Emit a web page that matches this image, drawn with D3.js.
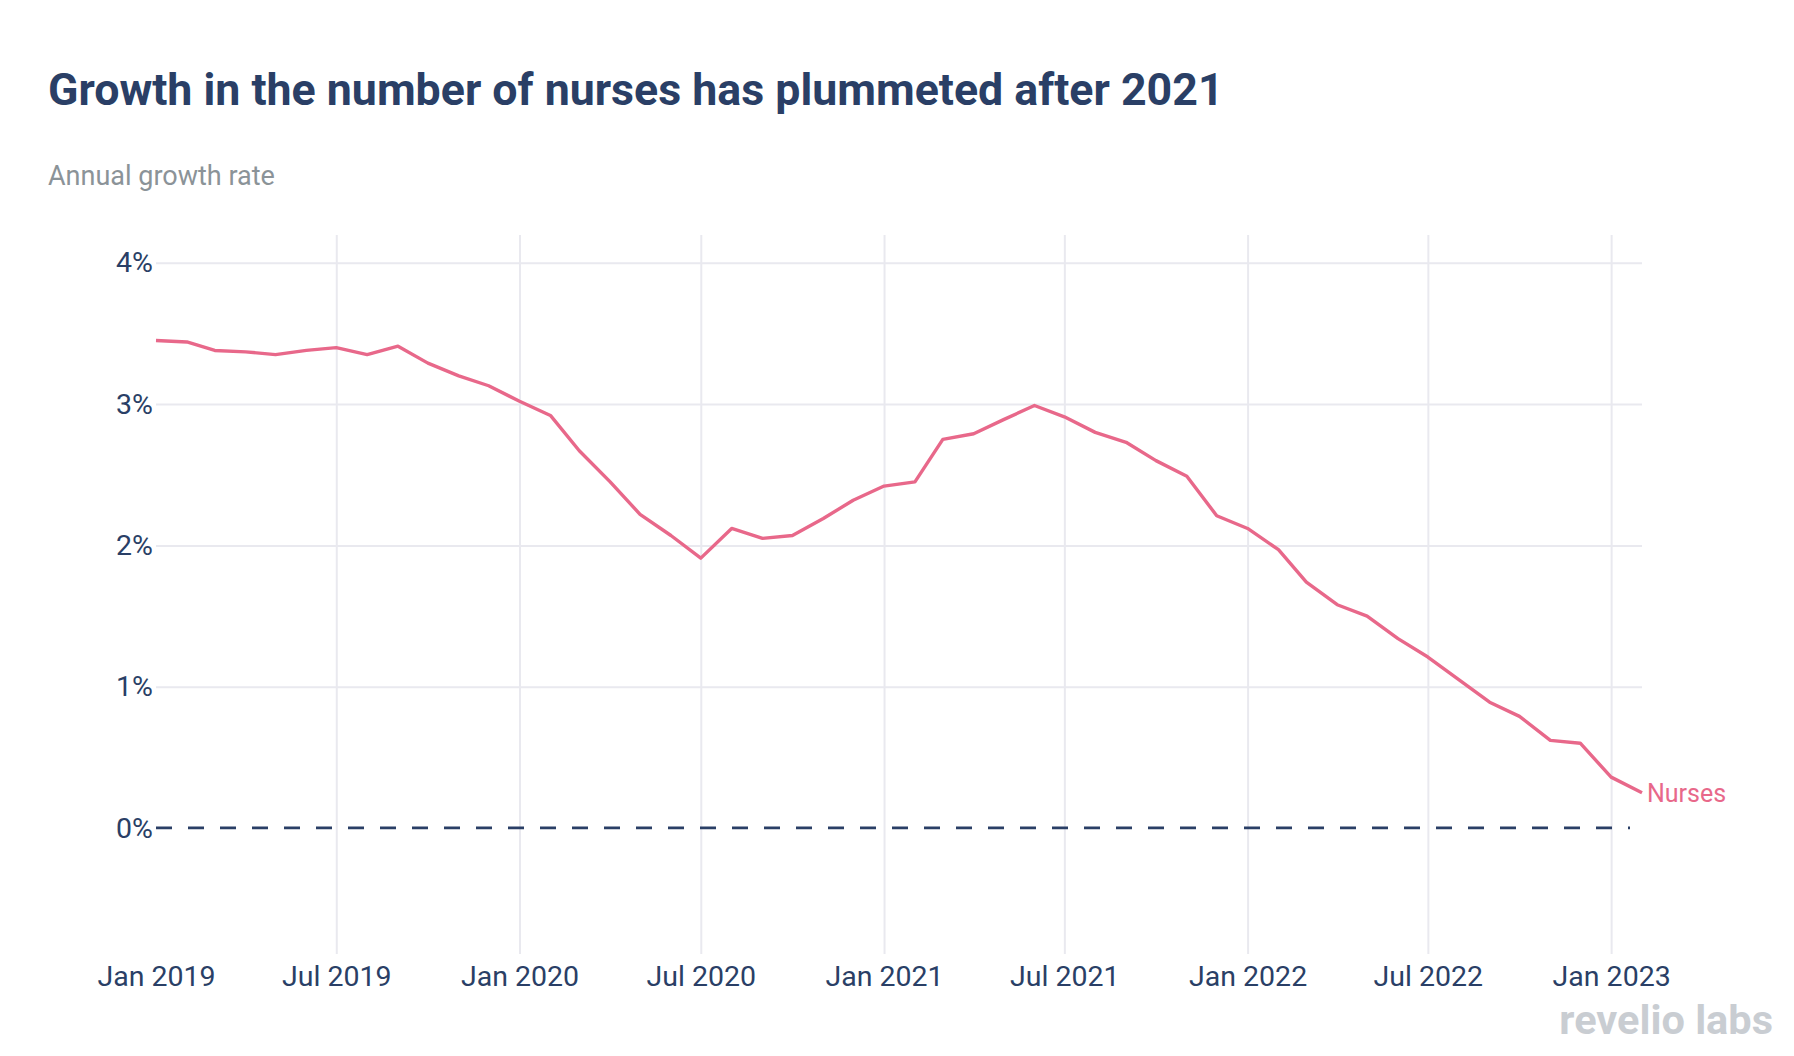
<!DOCTYPE html>
<html>
<head>
<meta charset="utf-8">
<script src="https://cdn.jsdelivr.net/npm/d3@7"></script>
<style>
  html, body { margin: 0; padding: 0; background: #fff; }
  svg { display: block; font-family: Roboto, "Noto Sans", sans-serif; }
</style>
</head>
<body>
<div id="chart"></div>
<script>
// ---------- DATA ----------
const months = [
  "2019-01", "2019-02", "2019-03", "2019-04", "2019-05", "2019-06",
  "2019-07", "2019-08", "2019-09", "2019-10", "2019-11", "2019-12",
  "2020-01", "2020-02", "2020-03", "2020-04", "2020-05", "2020-06",
  "2020-07", "2020-08", "2020-09", "2020-10", "2020-11", "2020-12",
  "2021-01", "2021-02", "2021-03", "2021-04", "2021-05", "2021-06",
  "2021-07", "2021-08", "2021-09", "2021-10", "2021-11", "2021-12",
  "2022-01", "2022-02", "2022-03", "2022-04", "2022-05", "2022-06",
  "2022-07", "2022-08", "2022-09", "2022-10", "2022-11", "2022-12",
  "2023-01", "2023-02"
];
// annual growth rate, percent
const nurses = [
  3.45, 3.44, 3.38, 3.37, 3.35, 3.38,
  3.40, 3.35, 3.41, 3.29, 3.20, 3.13,
  3.02, 2.92, 2.67, 2.45, 2.22, 2.07,
  1.91, 2.12, 2.05, 2.07, 2.19, 2.32,
  2.42, 2.45, 2.75, 2.79, 2.89, 2.99,
  2.91, 2.80, 2.73, 2.60, 2.49, 2.21,
  2.12, 1.97, 1.74, 1.58, 1.50, 1.34,
  1.21, 1.05, 0.89, 0.79, 0.62, 0.60,
  0.36, 0.25
];
const yTicks = [0, 1, 2, 3, 4];
const xTicks = ["2019-01", "2019-07", "2020-01", "2020-07", "2021-01", "2021-07",
                "2022-01", "2022-07", "2023-01"];

const title = "Growth in the number of nurses has plummeted after 2021";
const subtitle = "Annual growth rate";
const seriesName = "Nurses";

// ---------- DRAW ----------
const W = 1794, H = 1056;
const parse = d3.timeParse("%Y-%m");
const data = months.map((m, i) => ({ date: parse(m), value: nurses[i] }));

const plot = { left: 156, right: 1642, top: 235, bottom: 954 };

const x = d3.scaleTime()
  .domain([parse(months[0]), parse(months[months.length - 1])])
  .range([plot.left, plot.right]);

const y = d3.scaleLinear()
  .domain([-0.892, 4.197])
  .range([plot.bottom, plot.top]);

const svg = d3.select("#chart").append("svg")
  .attr("width", W)
  .attr("height", H);

const NAVY = "#2a3f66";
const PINK = "#e8688a";
const GRID = "#e9e9ef";

// title + subtitle
svg.append("text")
  .attr("x", 48).attr("y", 105)
  .attr("fill", NAVY)
  .style("font-size", "44.7px")
  .style("font-weight", 700)
  .text(title);

svg.append("text")
  .attr("x", 48).attr("y", 185)
  .attr("fill", "#8b9398")
  .style("font-size", "27px")
  .text(subtitle);

// vertical grid (x axis)
const xAxis = d3.axisBottom(x)
  .tickValues(xTicks.map(parse))
  .tickFormat(d3.timeFormat("%b %Y"))
  .tickSize(plot.bottom - plot.top)
  .tickPadding(12);

const gx = svg.append("g")
  .attr("transform", `translate(0,${plot.top})`)
  .call(xAxis);
gx.select(".domain").remove();
gx.selectAll(".tick line")
  .attr("stroke", GRID)
  .attr("stroke-width", 2)
  .attr("opacity", (d, i) => i === 0 ? 0 : 1);
gx.selectAll(".tick text")
  .attr("fill", NAVY)
  .style("font-size", "28.5px")
  .style("font-family", "Roboto, sans-serif");

// horizontal grid (y axis)
const yAxis = d3.axisLeft(y)
  .tickValues(yTicks)
  .tickFormat(d => d + "%")
  .tickSize(-(plot.right - plot.left))
  .tickPadding(3);

const gy = svg.append("g")
  .attr("transform", `translate(${plot.left},0)`)
  .call(yAxis);
gy.select(".domain").remove();
gy.selectAll(".tick line")
  .attr("stroke", GRID)
  .attr("stroke-width", 2)
  .attr("opacity", d => d === 0 ? 0 : 1);
gy.selectAll(".tick text")
  .attr("fill", NAVY)
  .style("font-size", "28.5px")
  .style("font-family", "Roboto, sans-serif");

// zero line, dashed
svg.append("line")
  .attr("x1", plot.left).attr("x2", plot.right - 12)
  .attr("y1", y(0)).attr("y2", y(0))
  .attr("stroke", NAVY)
  .attr("stroke-width", 2.8)
  .attr("stroke-dasharray", "16,16");

// series line
const line = d3.line()
  .x(d => x(d.date))
  .y(d => y(d.value));

svg.append("path")
  .datum(data)
  .attr("fill", "none")
  .attr("stroke", PINK)
  .attr("stroke-width", 3.4)
  .attr("stroke-linejoin", "round")
  .attr("d", line);

// end label
const last = data[data.length - 1];
svg.append("text")
  .attr("x", x(last.date) + 5)
  .attr("y", y(last.value) + 9)
  .attr("fill", PINK)
  .style("font-size", "25px")
  .text(seriesName);

// logo
svg.append("text")
  .attr("x", 1773)
  .attr("y", 1034)
  .attr("text-anchor", "end")
  .attr("fill", "#c9cdd2")
  .style("font-size", "41.5px")
  .style("font-weight", 700)
  .text("revelio labs");
</script>
</body>
</html>
